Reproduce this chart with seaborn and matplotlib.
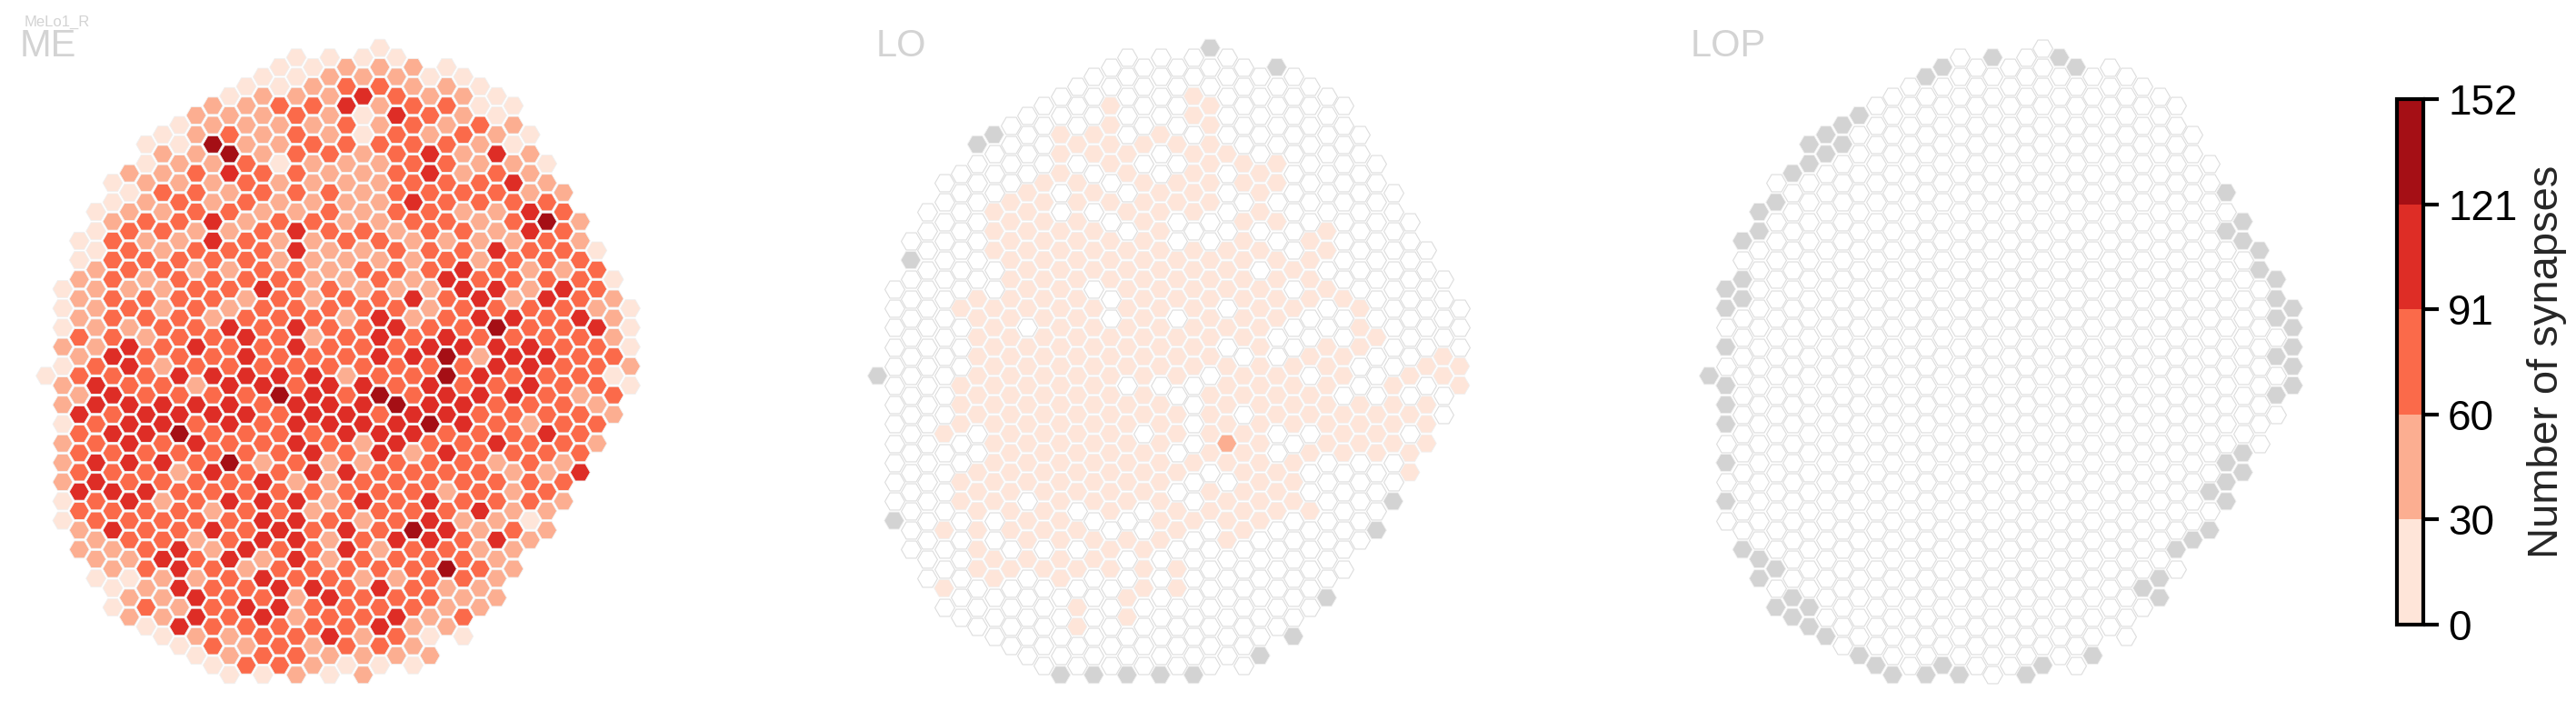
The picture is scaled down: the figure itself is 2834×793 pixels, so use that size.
"""
plot.py
Synapse counts of MeLo1_R per column, drawn as hexagon maps for ME, LO and LOP.
"""

import matplotlib
matplotlib.use("Agg")
import matplotlib.pyplot as plt
from matplotlib.cm import ScalarMappable
from matplotlib.colors import BoundaryNorm, ListedColormap
import pandas as pd
import seaborn as sns

# first column of every half row of the hexagon lattice (same in all panels)
ROW_START = [22, 17, 16, 15, 14, 13, 12, 11, 10, 9, 8, 9, 8, 7, 6, 7, 6, 5, 6, 5, 4, 5, 4, 5, 4, 3, 4, 3, 4, 3, 4, 3, 4,
             3, 2, 3, 4, 3, 4, 3, 4, 3, 4, 3, 4, 3, 4, 3, 4, 3, 4, 5, 4, 5, 6, 5, 6, 7, 6, 7, 8, 9, 10, 11, 12, 13]

# 0..4 = bin of the colorbar, "." = no synapses, "x" = column not present
ME_ROWS = [
    "0", "0000", "001110", "0011100", "00122110", "011132110", "1122312200", "1112103210",
    "01111212121", "012121021210", "004112222210", "114122123131", "0112011122110",
    "1123221123121", "01112111122231", "02212221222211", "01212111132222", "011221121221132",
    "122312211221241", "022112322122132", "0211321122111121", "0212223112223220",
    "0222221111121222", "1221122122232112", "12122221121322220", "01112232211133132",
    "12222121223231321", "012121222221222210", "12221222131233231", "011223232232242230",
    "22122321232322221", "113232232223333220", "13222322233413322", "023122222222233221",
    "022233333122432220", "132213323323223220", "13222243242333212", "13333323334332221",
    "32333323323322221", "02332323333432122", "2334222233322232", "12323223213223221",
    "2222222323132222", "1333241211222121", "2221322332222113", "1322223112222222",
    "333222222221212", "0231233313232221", "222212212222311", "022222332123110",
    "132232323243121", "12212331233231", "11231322312211", "1132313122221", "1232122222421",
    "0011232211221", "013223323211", "113221322211", "021233222211", "11323122312",
    "0322222311", "0112231200", "02121221", "01221111", "0221000", "00101",
]

LO_ROWS = [
    "x", "....", ".....x", ".......", "........", "....0....", "..0..0....", ".....0....",
    "...0..0....", "x.00.0......", "x..00000....", "..000.00....", "....0..000...",
    "...0.0.0.0...", "...00.00000...", "..0.0.00.0....", "..0000000.....", "..00..000.0....",
    "..000.0..00....", "..0000.0....0..", "...00000..0.0...", "..000000000.0...",
    "x..0000000000...", "...0000000.0....", "...0000000000....", "....00.00000.0...",
    "..0000.0000000...", "..00000000.00.0...", "..0000.0.000.....", "...0.0000000..0...",
    "..000000000...0..", "...0000000.0.00...", "..00000000..00..0", "...00000000000..00",
    "x..0000000.00.0.00", "..00000...0000.0.0", "..000000.0000....", "..0000000.0000000",
    "..00000000.00000.", "..0000000.0000000", ".0.0000.000..00.", "...000000.10.0000",
    "...00000.00.0000", "...0000000000...", "..0000000.00...0", "..0000000..00...",
    "..000000.000...", "..00.0000.000..x", "..000.0.00000..", "x...00..0000...",
    ".00000..0.0...x", "...00000.0....", "..0...00......", "..0000.......", ".0000000.....",
    "..0.0........", "0.....00....", ".....0.....x", "....0.......", ".....0.....",
    "...0......", ".........x", "........", ".......x", ".......", "xxxxx",
]

# LOP has no synapses at all, only the absent columns differ: {half row: columns}
LOP_ABSENT = {
    1: [19, 23], 2: [16, 24], 3: [15], 7: [11], 8: [10], 9: [9], 10: [8, 10], 11: [9], 12: [8], 13: [7],
    15: [33], 16: [6], 17: [5], 18: [34], 19: [5, 33], 20: [4, 34], 21: [35], 23: [35], 24: [4, 36],
    25: [3], 26: [4, 36], 27: [3, 37], 28: [36], 29: [37], 31: [3, 37], 32: [36], 33: [37], 34: [2],
    35: [3, 37], 36: [36], 37: [3], 39: [3], 42: [34], 43: [3, 33], 44: [34], 45: [33], 46: [32],
    47: [3, 33], 50: [32], 51: [31], 52: [4, 30], 53: [5], 54: [6], 55: [5, 29], 56: [28], 57: [7, 29],
    58: [6, 8], 59: [7], 60: [8], 61: [9], 63: [11, 25], 64: [12, 16, 22], 65: [13, 15, 17, 21],
}

PANEL_NAMES = ["ME", "LO", "LOP"]
CELL_TYPE = "MeLo1_R"
BIN_COLORS = ["#fee5d9", "#fcae91", "#fb6a4a", "#de2d26", "#a50f15"]
BIN_EDGES = [0, 30, 60, 91, 121, 152]
CBAR_LABEL = "Number of synapses"

WIDTH, HEIGHT, DPI = 2834, 793, 300

sns.set_theme(style="white")
plt.rcParams["font.family"] = ["Liberation Sans", "DejaVu Sans"]


def lop_rows():
    rows = []
    for r, (start, me) in enumerate(zip(ROW_START, ME_ROWS)):
        absent = LOP_ABSENT.get(r, [])
        rows.append("".join("x" if start + 2 * i in absent else "." for i in range(len(me))))
    return rows


def cells(rows):
    out = []
    for r, (start, row) in enumerate(zip(ROW_START, rows)):
        assert len(row) == len(ME_ROWS[r]), r
        for i, val in enumerate(row):
            out.append({"col": start + 2 * i, "row": r, "val": val})
    return pd.DataFrame(out)


def draw_panel(fig, rows, origin, step, name, text_x):
    # the axes runs from column -0.5 to 39.5 and over the full figure height
    ax = fig.add_axes([(origin - 0.5 * step) / WIDTH, 0, 40 * step / WIDTH, 1])
    df = cells(rows)
    palette = {str(i): c for i, c in enumerate(BIN_COLORS)}
    palette["x"] = "#d3d3d3"
    palette["."] = "white"

    empty = df[df["val"] == "."]
    if len(empty):
        sns.scatterplot(data=empty, x="col", y="row", color="white", marker="H", s=27.5,
                        edgecolor="#dcdcdc", linewidth=0.26, legend=False, ax=ax)
    filled = df[df["val"] != "."]
    sns.scatterplot(data=filled, x="col", y="row", hue="val", palette=palette, marker="H", s=27.5,
                    edgecolor="#f0f0f0", linewidth=0.2, legend=False, ax=ax)
    ax.set_xlim(-0.5, 39.5)
    ax.set_ylim((HEIGHT - 52.67) / 10.61, -52.67 / 10.61)
    ax.axis("off")
    ax.patch.set_alpha(0)
    fig.text(text_x / WIDTH, 1 - 62 / HEIGHT, name, fontsize=10, color="lightgray", va="baseline")


def main():
    fig = plt.figure(figsize=(WIDTH / DPI, HEIGHT / DPI), dpi=DPI)

    draw_panel(fig, ME_ROWS, 13.77, 18.37, PANEL_NAMES[0], 22)
    draw_panel(fig, LO_ROWS, 928.8, 18.30, PANEL_NAMES[1], 964)
    draw_panel(fig, lop_rows(), 1843.6, 18.35, PANEL_NAMES[2], 1860)
    fig.text(27 / WIDTH, 1 - 29 / HEIGHT, CELL_TYPE, fontsize=4, color="lightgray", va="baseline")

    cax = fig.add_axes([2637 / WIDTH, 1 - 687 / HEIGHT, 29 / WIDTH, 578 / HEIGHT])
    norm = BoundaryNorm(BIN_EDGES, len(BIN_COLORS))
    sm = ScalarMappable(norm=norm, cmap=ListedColormap(BIN_COLORS))
    cbar = fig.colorbar(sm, cax=cax, ticks=BIN_EDGES)
    cbar.outline.set_linewidth(1)
    cbar.outline.set_edgecolor("black")
    cbar.ax.tick_params(labelsize=11, length=4, width=1, pad=2.5, color="black", labelcolor="black",
                        right=True, which="major")
    cbar.ax.minorticks_off()
    cbar.set_label(CBAR_LABEL, fontsize=11.3, labelpad=2.5)

    fig.savefig("out.png", dpi=DPI, facecolor="white")
    plt.close(fig)


if __name__ == "__main__":
    main()
